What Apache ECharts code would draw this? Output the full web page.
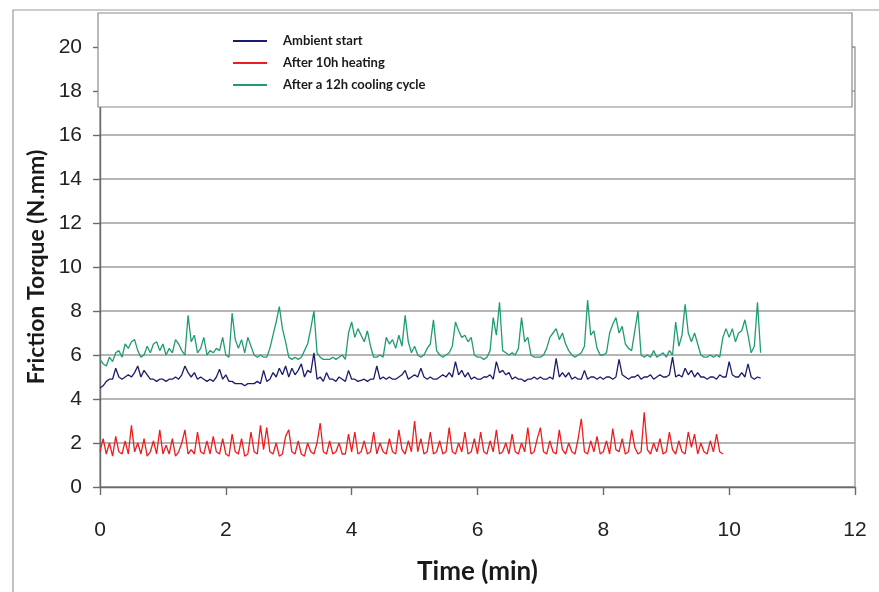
<!DOCTYPE html>
<html lang="en">
<head>
    <meta charset="UTF-8">
    <title>Friction Torque vs Time</title>
    <script src="https://cdn.jsdelivr.net/npm/echarts@6/dist/echarts.min.js"></script>
    <style>
        html, body { margin: 0; padding: 0; background: #ffffff; }
        #chart { width: 879px; height: 592px; }
    </style>
</head>
<body>
    <div id="chart"></div>
    <script>
        // sampling step of the recorded traces (minutes)
        const timeStep = 0.05;

        const seriesNames = ['Ambient start', 'After 10h heating', 'After a 12h cooling cycle'];
        const xTicks = [0, 2, 4, 6, 8, 10, 12];
        const yTicks = [0, 2, 4, 6, 8, 10, 12, 14, 16, 18, 20];

        // Ambient start (0 - 10.5 min)
        const ambient = [
            4.5,4.6,4.8,4.9,4.9,5.4,5.0,4.9,5.0,5.1,5.0,5.2,5.5,5.0,5.3,5.1,4.9,4.9,4.8,4.9,
            4.9,4.8,4.9,4.9,5.0,4.9,5.1,5.5,5.2,5.0,5.2,4.9,5.0,4.9,4.8,4.9,4.8,5.0,5.35,4.9,
            5.1,4.8,4.8,4.7,4.7,4.7,4.6,4.7,4.7,4.7,4.8,4.7,5.3,4.8,4.9,5.2,5.0,5.4,5.1,5.5,
            5.0,5.4,5.1,5.3,5.6,5.0,5.3,5.2,6.1,4.9,5.0,4.8,5.2,4.9,4.9,4.8,5.0,4.9,4.8,5.3,
            4.9,4.9,4.8,4.85,4.9,4.8,4.9,4.9,5.5,4.9,5.0,4.9,5.0,4.9,4.9,5.0,5.1,5.3,4.9,5.0,
            5.1,5.0,5.4,5.0,4.9,5.0,4.9,4.9,5.0,5.1,5.0,5.2,5.0,5.7,5.1,5.3,5.0,5.2,4.9,5.0,
            4.9,4.9,5.0,5.0,5.1,4.9,5.7,5.2,5.3,5.1,5.2,4.9,5.0,4.9,4.9,4.8,4.9,4.9,5.0,4.9,
            5.0,4.9,4.9,5.0,4.9,5.85,5.0,5.2,5.0,5.2,4.9,5.0,4.9,4.9,5.3,4.9,5.0,5.0,4.9,5.0,
            4.9,5.0,5.0,4.9,5.0,5.8,5.1,5.0,4.9,5.0,5.0,5.1,4.9,5.0,5.0,5.1,4.9,5.0,5.1,5.0,
            5.0,5.1,5.9,5.0,5.1,5.0,5.4,5.1,5.3,5.0,5.2,5.0,5.0,4.9,5.0,5.0,4.9,5.1,5.0,5.0,
            5.7,5.1,5.0,5.0,5.2,5.0,5.6,5.0,4.9,5.0,4.95
        ];

        // After 10h heating (0 - 9.9 min)
        const heating = [
            1.6,2.2,1.5,2.0,1.4,2.3,1.6,1.5,2.1,1.5,2.8,1.6,2.0,1.5,2.2,1.4,1.6,2.1,1.5,2.6,
            1.5,1.9,1.5,2.2,1.4,1.6,2.0,2.6,1.5,1.7,1.5,2.5,1.6,1.5,2.1,1.5,2.3,1.6,1.5,2.2,
            1.5,1.4,2.4,1.6,1.5,2.2,1.4,1.5,2.5,1.6,1.5,2.8,1.7,2.7,1.6,1.5,2.0,1.4,1.5,2.3,
            2.6,1.6,1.5,2.1,1.5,1.4,2.0,1.6,1.5,2.0,2.9,1.6,1.5,2.1,1.5,1.6,2.0,1.5,1.5,2.4,
            1.6,2.5,1.5,1.6,2.1,1.5,1.6,2.5,1.5,2.0,1.6,1.5,2.2,1.6,1.5,2.6,1.7,1.5,2.1,1.6,
            3.0,1.6,2.2,1.5,1.6,2.5,1.5,1.6,2.1,1.5,1.6,2.7,1.6,1.5,2.0,1.6,2.5,1.5,1.6,2.2,
            1.5,2.5,1.6,1.5,2.1,1.6,2.6,1.5,1.6,2.0,1.5,2.4,1.6,1.5,2.0,1.6,2.7,1.5,1.6,2.2,
            2.7,1.6,1.5,2.1,1.6,1.5,2.6,1.7,1.5,2.0,1.6,1.5,2.2,3.1,1.6,1.5,2.1,1.6,2.3,1.5,
            1.6,2.1,1.5,2.65,1.7,1.6,2.2,1.5,1.6,2.6,1.8,1.5,1.6,3.4,1.7,1.5,2.0,1.6,2.2,1.5,
            1.6,2.5,1.7,1.5,2.1,1.6,1.5,2.5,1.8,2.4,1.5,2.0,1.6,1.5,2.1,1.6,2.4,1.6,1.5
        ];

        // After a 12h cooling cycle (0 - 10.5 min)
        const cooling = [
            5.8,5.6,5.5,5.9,5.7,6.1,6.2,5.9,6.5,6.3,6.6,6.7,6.2,5.9,6.0,6.4,6.1,6.5,6.6,6.2,
            6.5,6.0,6.3,6.1,6.7,6.5,6.2,6.0,7.8,6.6,6.9,6.1,6.3,6.8,6.0,6.2,6.1,6.3,6.2,6.8,
            6.0,5.9,7.9,6.7,6.3,6.7,6.1,6.8,6.4,6.0,5.9,6.0,5.9,5.9,6.3,6.9,7.5,8.2,7.2,6.6,
            5.9,5.8,5.9,5.8,5.9,6.2,6.5,7.2,8.0,6.1,5.9,5.8,5.8,5.8,5.9,5.8,5.9,6.0,5.8,7.0,
            7.5,6.8,7.2,6.9,6.6,7.1,6.4,5.9,5.9,6.0,5.9,6.8,6.5,6.7,6.3,6.9,6.4,7.8,6.6,6.1,
            6.4,6.0,5.9,6.0,6.3,6.5,7.6,6.2,6.0,5.9,6.0,6.1,6.4,7.5,7.1,6.8,6.9,6.6,6.8,6.0,
            5.9,5.9,5.8,5.9,6.2,7.7,6.9,8.4,6.2,6.1,6.0,6.1,6.0,6.3,7.7,6.6,6.8,6.0,5.9,5.9,
            5.9,6.0,6.3,6.8,7.0,7.2,6.7,7.0,6.5,6.2,6.0,5.9,6.0,6.1,6.4,8.5,6.9,7.1,6.3,6.0,
            6.0,6.1,7.0,7.4,7.7,7.0,7.3,6.5,6.3,6.2,7.1,8.0,6.0,5.9,6.0,5.9,6.2,5.9,6.0,6.1,
            5.9,6.2,6.0,7.5,6.4,6.9,8.3,7.0,6.6,7.0,6.5,6.0,5.9,5.9,6.0,5.9,6.0,5.9,6.8,7.2,
            6.8,7.2,6.6,7.0,7.1,7.6,6.9,6.1,6.4,8.4,6.1
        ];

        const colors = ['#1c1c6e', '#ee1d1d', '#1f9c74'];

        function toPairs(values) {
            return values.map((v, i) => [+(i * timeStep).toFixed(2), v]);
        }

        const chart = echarts.init(document.getElementById('chart'));

        const labelFont = "'Liberation Sans', Arial, sans-serif";
        const nameFont = "Lato, 'Open Sans', sans-serif";

        chart.setOption({
            animation: false,
            color: colors,
            graphic: [
                {
                    // outer frame of the figure (left and top edges)
                    type: 'polyline',
                    z: 0,
                    shape: { points: [[13, 600], [13, 10], [879, 10]] },
                    style: { fill: 'none', stroke: '#9a9a9a', lineWidth: 1.2 }
                },
                {
                    // legend box
                    type: 'rect',
                    z: 5,
                    shape: { x: 98, y: 13, width: 754, height: 94 },
                    style: { fill: '#ffffff', stroke: '#8a8a8a', lineWidth: 1.2 }
                }
            ],
            legend: {
                z: 10,
                orient: 'vertical',
                left: 228,
                top: 28,
                itemWidth: 34,
                itemHeight: 2,
                itemGap: 6,
                icon: 'rect',
                textStyle: {
                    fontFamily: nameFont,
                    fontWeight: 'bold',
                    fontSize: 13,
                    color: '#1a1a1a',
                    padding: [0, 0, 0, 11],
                    lineHeight: 16
                },
                data: seriesNames
            },
            grid: {
                left: 100,
                right: 24,
                top: 47,
                bottom: 105,
                show: true,
                borderColor: '#8a8a8a',
                borderWidth: 1.2,
                backgroundColor: 'transparent'
            },
            xAxis: {
                type: 'value',
                min: xTicks[0],
                max: xTicks[xTicks.length - 1],
                interval: 2,
                name: 'Time (min)',
                nameLocation: 'middle',
                nameGap: 72,
                nameTextStyle: {
                    fontFamily: nameFont,
                    fontWeight: 'bold',
                    fontSize: 26,
                    color: '#1a1a1a'
                },
                axisLine: { show: true, lineStyle: { color: '#6a6a6a', width: 1.4 } },
                axisTick: { show: true, inside: false, length: 8, lineStyle: { color: '#6a6a6a', width: 1.4 } },
                axisLabel: {
                    margin: 33,
                    fontFamily: labelFont,
                    fontSize: 21,
                    color: '#222'
                },
                splitLine: { show: false }
            },
            yAxis: {
                type: 'value',
                min: yTicks[0],
                max: yTicks[yTicks.length - 1],
                interval: 2,
                name: 'Friction Torque (N.mm)',
                nameLocation: 'middle',
                nameGap: 48,
                nameTextStyle: {
                    fontFamily: nameFont,
                    fontWeight: 'bold',
                    fontSize: 23,
                    color: '#1a1a1a'
                },
                axisLine: { show: true, lineStyle: { color: '#6a6a6a', width: 1.4 } },
                axisTick: { show: true, inside: false, length: 7, lineStyle: { color: '#6a6a6a', width: 1.4 } },
                axisLabel: {
                    margin: 18,
                    fontFamily: labelFont,
                    fontSize: 21,
                    color: '#222'
                },
                splitLine: { show: true, lineStyle: { color: '#9c9c9c', width: 1.5 } }
            },
            series: [
                {
                    name: seriesNames[0],
                    type: 'line',
                    showSymbol: false,
                    lineStyle: { width: 1.3 },
                    data: toPairs(ambient)
                },
                {
                    name: seriesNames[1],
                    type: 'line',
                    showSymbol: false,
                    lineStyle: { width: 1.3 },
                    data: toPairs(heating)
                },
                {
                    name: seriesNames[2],
                    type: 'line',
                    showSymbol: false,
                    lineStyle: { width: 1.3 },
                    data: toPairs(cooling)
                }
            ]
        });
    </script>
</body>
</html>
